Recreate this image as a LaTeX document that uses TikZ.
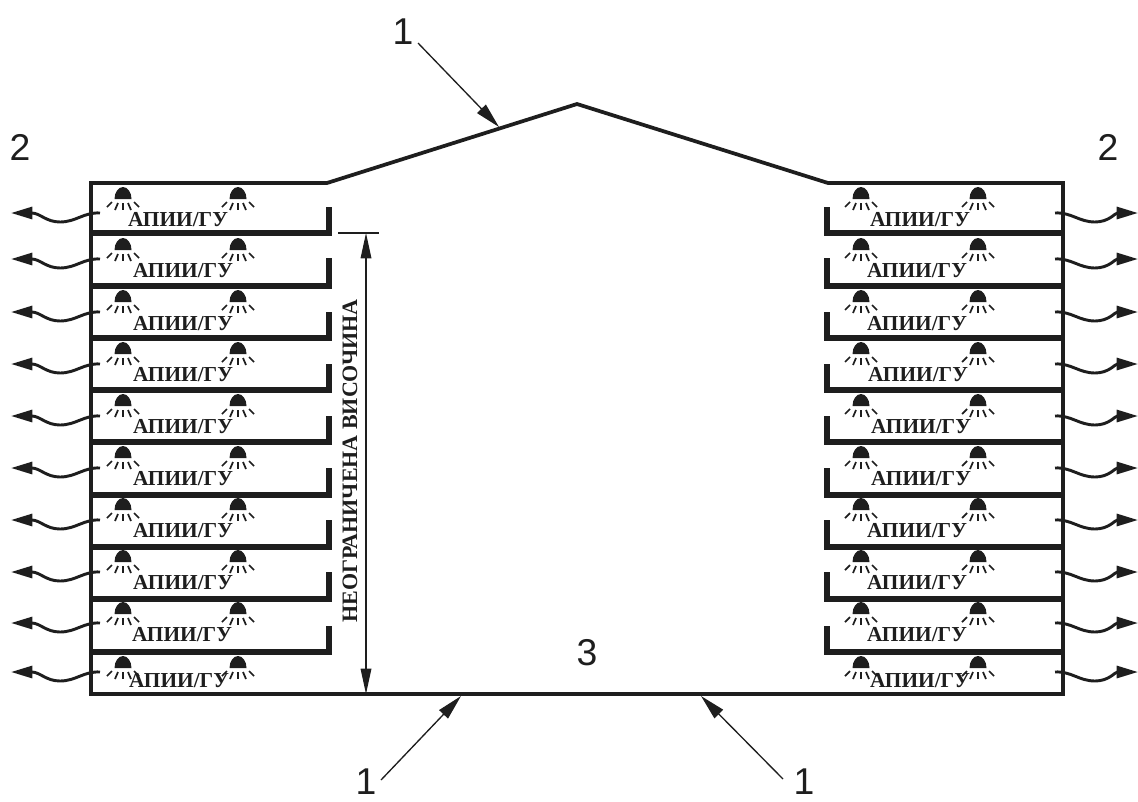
\documentclass[tikz,border=0pt]{standalone}
\usepackage{fontspec}
\setmainfont{Liberation Serif}
\newfontfamily\digitfont{Liberation Sans}
\usetikzlibrary{arrows.meta}
\definecolor{ink}{HTML}{1E1E1E}
\tikzset{
  outer/.style={draw=ink,line width=2.8pt,line join=miter},
  floorline/.style={draw=ink,line width=4pt,line join=miter},
  leader/.style={draw=ink,line width=1pt,-{Triangle[length=19pt,width=9pt]}},
  dimline/.style={draw=ink,line width=0.9pt,{Triangle[length=19pt,width=8pt]}-{Triangle[length=19pt,width=8pt]}},
  wave/.style={draw=ink,line width=2.2pt,-{Triangle[length=16pt,width=9pt]}},
  ray/.style={draw=ink,line width=1.3pt},
  lab/.style={text=ink,font=\fontsize{16}{18}\selectfont\bfseries,inner sep=0pt},
  num/.style={text=ink,font=\fontsize{28}{30}\digitfont,inner sep=0pt},
  heightlab/.style={text=ink,font=\fontsize{16.5}{18}\selectfont\bfseries,inner sep=0pt,rotate=90}
}
\newcommand{\sprink}[2]{%
  \fill[ink] ({#1-8.5},{#2+20}) arc[start angle=180,end angle=360,x radius=8.5,y radius=12] -- cycle;
  \draw[ray] ({#1},{#2+24})--({#1},{#2+31});
  \draw[ray] ({#1-5},{#2+24})--({#1-8},{#2+31});
  \draw[ray] ({#1+5},{#2+24})--({#1+8},{#2+31});
  \draw[ray] ({#1-11},{#2+23})--({#1-16},{#2+28});
  \draw[ray] ({#1+11},{#2+23})--({#1+16},{#2+28});
}
\begin{document}
\begin{tikzpicture}[x=0.75pt,y=-0.75pt]
\useasboundingbox (0,0) rectangle (1138,801);
% shell
\coordinate (tl) at (91,183);
\coordinate (rl) at (327,183);
\coordinate (ridge) at (577,104);
\coordinate (rr) at (828,183);
\coordinate (tr) at (1063,183);
\coordinate (br) at (1063,694);
\coordinate (bl) at (91,694);
\draw[outer] (tl)--(rl)--(ridge)--(rr)--(tr)--(br)--(bl)--cycle;
% floors
\foreach \y/\t in {233/207,286/258,338/312,390/364,442/416,495/468,547/520,599/572,652/626}{
  \draw[floorline] (91,\y) -- (329,\y) -- (329,\t);
  \draw[floorline] (1063,\y) -- (827,\y) -- (827,\t);
}
% sprinklers
\foreach \y in {179,230,282,334,386,438,490,542,594,648}{
  \sprink{123}{\y}\sprink{238}{\y}\sprink{861}{\y}\sprink{978}{\y}
}
% labels
\foreach \n/\x/\y in {a/178/220,b/183/271,c/183/324,d/183/375,e/183/427,f/183/479,g/183/531,h/183/583,i/182/635,j/179/681}{
  \node[lab] (L\n) at (\x,\y) {АПИИ/ГУ};
}
\foreach \n/\x/\y in {a/920/220,b/917/271,c/917/324,d/918/375,e/921/427,f/921/479,g/917/531,h/917/583,i/917/635,j/920/681}{
  \node[lab] (R\n) at (\x,\y) {АПИИ/ГУ};
}
% heat waves
\foreach \y in {213,259,312,364,416,468,520,572,623,672}{
  \draw[wave] (100,\y) .. controls (84,{\y-1}) and (76,{\y+9}) .. (60,{\y+9}) .. controls (46,{\y+9}) and (40,\y) .. (11,\y);
  \draw[wave] (1055,\y) .. controls (1071,{\y-1}) and (1079,{\y+9}) .. (1095,{\y+9}) .. controls (1109,{\y+9}) and (1115,\y) .. (1138,\y);
}
% dimension
\coordinate (dt) at (366,233);
\coordinate (db) at (366,694);
\coordinate (t1) at (338,233);
\coordinate (t2) at (379,233);
\draw[draw=ink,line width=0.9pt] (t1)--(t2);
\draw[dimline] (dt)--(db);
\node[heightlab] (hl) at (350,461) {НЕОГРАНИЧЕНА ВИСОЧИНА};
% numbers
\node[num] (n1) at (403,32) {1};
\node[num] (n2l) at (20,147) {2};
\node[num] (n2r) at (1108,147) {2};
\node[num] (n3) at (587,653) {3};
\node[num] (n1l) at (366,782) {1};
\node[num] (n1r) at (804,782) {1};
\coordinate (p1) at (499,127);
\coordinate (p2) at (461,696);
\coordinate (p3) at (701,696);
\draw[leader] ([shift={(15,11)}]n1.center) -- (p1);
\draw[leader] ([shift={(15,-2)}]n1l.center) -- (p2);
\draw[leader] ([shift={(-21,-3)}]n1r.center) -- (p3);
\end{tikzpicture}
\end{document}
